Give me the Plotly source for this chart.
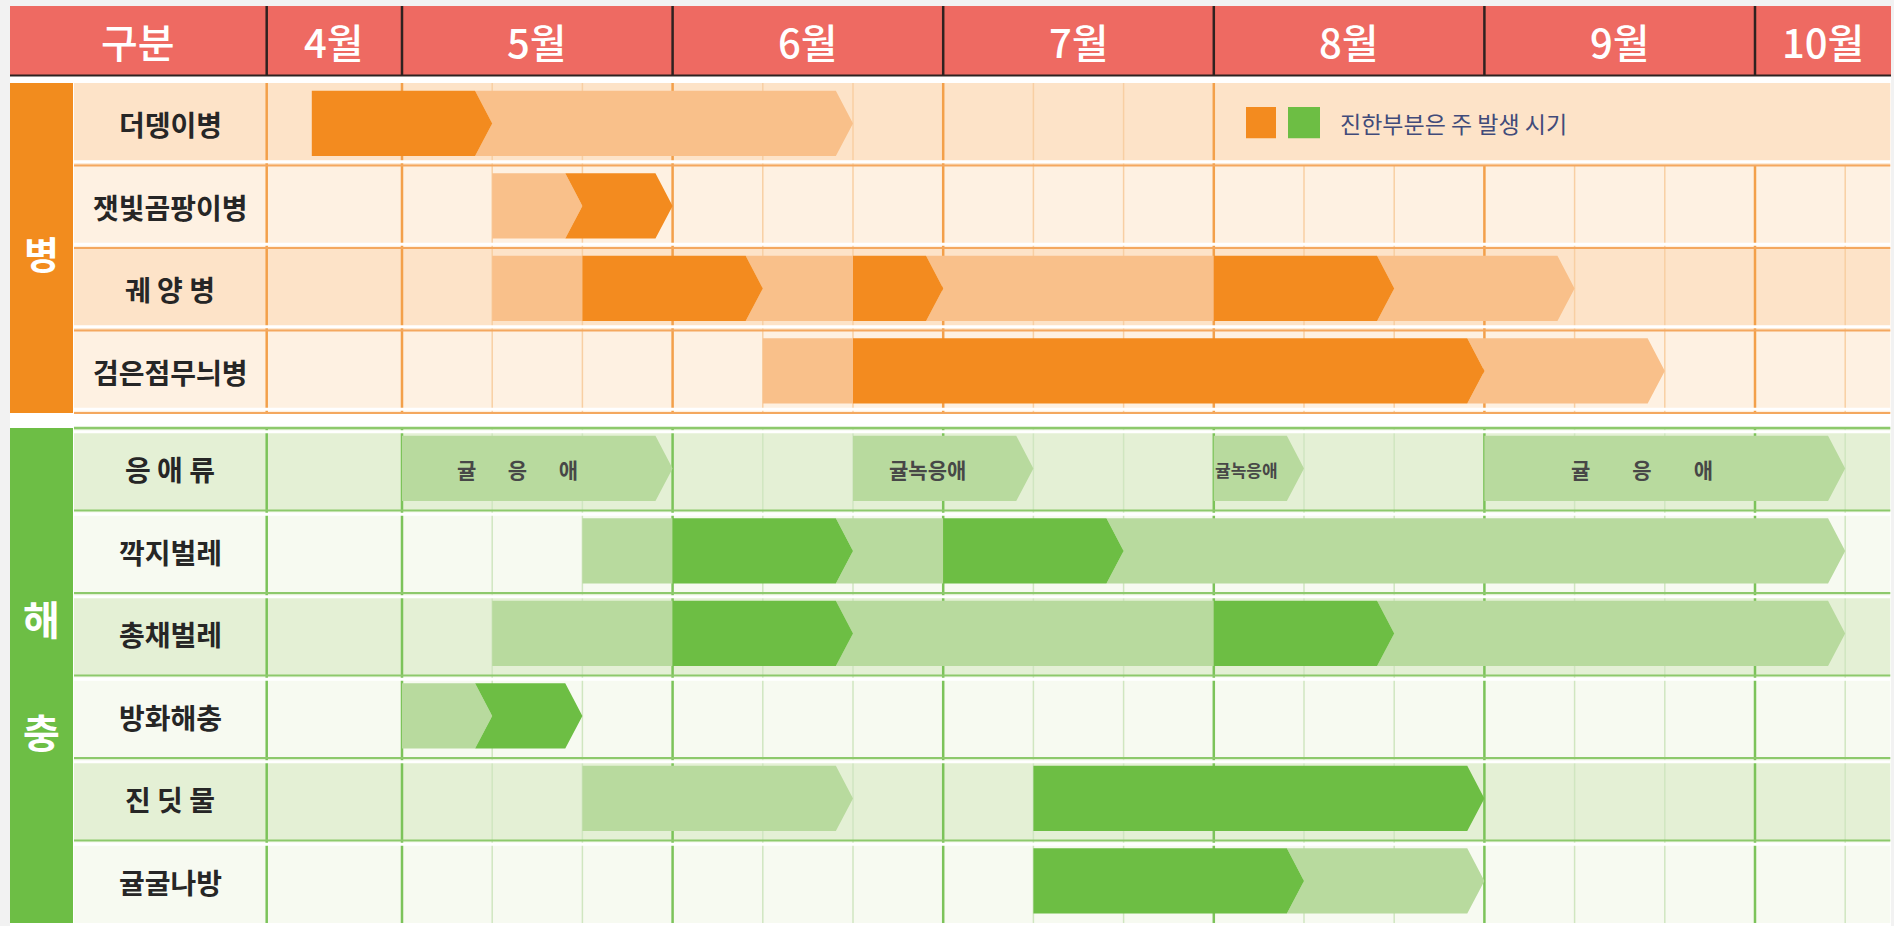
"""감귤 병해충 발생 시기표 (Plotly 재현)."""
import plotly.graph_objects as go

W, H = 1894, 926
FONT = "Noto Sans CJK KR"

# ---- 데이터 -------------------------------------------------------------
MONTHS = ["4월", "5월", "6월", "7월", "8월", "9월", "10월"]
MONTH_DEKADS = [1.5, 3, 3, 3, 3, 3, 1.5]   # 표에 보이는 순(旬) 수
FIRST_MONTH_START = -1.5                   # 5월 상순 시작 = 0
HEADER_FIRST = "구분"

GROUPS = ["병", "해충"]

DISEASES = ["더뎅이병", "잿빛곰팡이병", "궤 양 병", "검은점무늬병"]
# (시작 순, 끝 순, 구분, 화살표 끝)
DISEASE_PERIODS = [
    [(-1, 1, "main", True), (1, 5, "sub", True)],
    [(1, 2, "sub", True), (2, 3, "main", True)],
    [(1, 2, "sub", False), (2, 4, "main", True), (4, 5, "sub", False),
     (5, 6, "main", True), (6, 9, "sub", False), (9, 11, "main", True),
     (11, 13, "sub", True)],
    [(4, 5, "sub", False), (5, 12, "main", True), (12, 14, "sub", True)],
]

PESTS = ["응 애 류", "깍지벌레", "총채벌레", "방화해충", "진 딧 물", "귤굴나방"]
PEST_PERIODS = [
    [(0, 3, "sub", True), (5, 7, "sub", True), (9, 10, "sub", True),
     (12, 16, "sub", True)],
    [(2, 3, "sub", False), (3, 5, "main", True), (5, 6, "sub", False),
     (6, 8, "main", True), (8, 16, "sub", True)],
    [(1, 3, "sub", False), (3, 5, "main", True), (5, 9, "sub", False),
     (9, 11, "main", True), (11, 16, "sub", True)],
    [(0, 1, "sub", True), (1, 2, "main", True)],
    [(2, 5, "sub", True), (7, 12, "main", True)],
    [(7, 10, "main", True), (10, 12, "sub", True)],
]
# 응애류 막대 안의 글자 (PEST_PERIODS[0] 순서)
MITE_NAMES = ["귤\u3000\u2002응\u3000\u2002애", "귤녹응애", "귤녹응애",
              "귤\u3000\u3000응\u3000\u3000애"]

LEGEND_TEXT = "진한부분은 주 발생 시기"

# ---- 색상 ---------------------------------------------------------------
HEADER = {"bg": "#EE6A62", "line": "#2E2220", "text": "#FFFFFF"}
ORANGE = {
    "main": "#F38B1F", "sub": "#F9C08A", "side": "#F28C1E",
    "row": ["#FDE3C8", "#FEF1E2"],
    "month": "#F3A04A", "dekad": "#F8CFA3", "hline": "#F4A85F",
}
GREEN = {
    "main": "#6DBE44", "sub": "#B8DA9E", "side": "#6DBE45",
    "row": ["#E4F0D5", "#F7FAF1"],
    "month": "#7CC35A", "dekad": "#D0E6C0", "hline": "#8DC96C",
}
LABEL_COLOR = "#262626"
MITE_COLOR = "#474747"
LEGEND_COLOR = "#414B7A"

# ---- 화면 배치 (px) ----------------------------------------------------
X0_PX = 402        # 5월 상순 시작 위치
DEKAD_PX = 90.2
ROW_PX = 82.5
TOP_PX = 83        # 병 구역 첫 행 윗변
PEST_TOP_PX = 428  # 해충 구역 첫 행 윗변
TIP = 0.19         # 화살표 끝 폭 (순 단위)
BAR_HALF = 0.395


def xd(px):
    return (px - X0_PX) / DEKAD_PX


def yd(px):
    return (px - TOP_PX) / ROW_PX - 0.5


shapes = []
annotations = []


def rect(x0, x1, y0, y1, color, layer="below"):
    shapes.append(dict(type="rect", xref="x", yref="y", x0=x0, x1=x1,
                       y0=y0, y1=y1, fillcolor=color, line_width=0,
                       layer=layer))


def line(x0, x1, y0, y1, color, width, layer="below"):
    shapes.append(dict(type="line", xref="x", yref="y", x0=x0, x1=x1,
                       y0=y0, y1=y1, line=dict(color=color, width=width),
                       layer=layer))


def text(x, y, s, size, color, weight="normal", xanchor="center"):
    annotations.append(dict(
        x=x, y=y, xref="x", yref="y", text=s, showarrow=False,
        xanchor=xanchor, yanchor="middle",
        font=dict(family=FONT, size=size, color=color, weight=weight),
    ))


def chevron(a, b, yc, notch, tip):
    top, bot = yc - BAR_HALF, yc + BAR_HALF
    if notch:
        xs, ys = [a - TIP, a, a - TIP], [bot, yc, top]
    else:
        xs, ys = [a, a], [bot, top]
    if tip:
        xs += [b - TIP, b, b - TIP]
        ys += [top, yc, bot]
    else:
        xs += [b, b]
        ys += [top, bot]
    xs.append(xs[0])
    ys.append(ys[0])
    return xs, ys


month_starts = []
acc = FIRST_MONTH_START
for n in MONTH_DEKADS:
    month_starts.append(acc)
    acc += n
x_end = acc
dekad_lines = [k for k in range(1, int(x_end) + 1) if k % 3 != 0]

fig = go.Figure()

# 바탕 (회색 테두리 + 흰 판)
rect(xd(0), xd(W), yd(H), yd(0), "#F2F2F2")
rect(xd(10), xd(1891), yd(H), yd(6), "#FFFFFF")


def draw_section(top, names, periods, theme, group, legend_row=False):
    n = len(names)
    centers = [top + 0.5 + i for i in range(n)]
    bottom = top + n
    # 행 배경
    for i, yc in enumerate(centers):
        rect(xd(74), x_end, yc - 0.5, yc + 0.5, theme["row"][i % 2])
    # 왼쪽 구분 칸
    rect(xd(10), xd(73), top, bottom, theme["side"])
    # 세로선
    for x in dekad_lines:
        y0 = top + 1 if (legend_row and x > 9) else top
        line(x, x, y0, bottom, theme["dekad"], 1.5)
    for x in month_starts:
        y0 = top + 1 if (legend_row and x > 9) else top
        line(x, x, y0, bottom, theme["month"], 2.5)
    # 가로선
    for i in range(1, n + 1):
        yb = top + i
        if group == "병":
            line(xd(74), x_end, yb - 0.045, yb - 0.045, "#FFFFFF", 3)
        else:
            line(xd(74), x_end, yb + 0.045, yb + 0.045, "#FFFFFF", 3)
        if i < n or group == "병":
            line(xd(74), x_end, yb, yb, theme["hline"], 2)
    if group != "병":
        line(xd(74), x_end, top + 0.045, top + 0.045, "#FFFFFF", 3)
        line(xd(74), x_end, top, top, theme["hline"], 2.5)

    # 막대
    polys = {"main": ([], []), "sub": ([], [])}
    for yc, segs in zip(centers, periods):
        prev = None
        for a, b, kind, tip in segs:
            notch = prev is not None and prev[1] == a and prev[3]
            xs, ys = chevron(a, b, yc - 0.01, notch, tip)
            px, py = polys[kind]
            px += xs + [None]
            py += ys + [None]
            prev = (a, b, kind, tip)
    for kind in ("sub", "main"):
        px, py = polys[kind]
        fig.add_trace(go.Scatter(
            x=px, y=py, mode="lines", fill="toself",
            fillcolor=theme[kind], line=dict(width=0, color=theme[kind]),
            hoverinfo="skip", showlegend=False,
        ))

    # 글자
    for yc, name in zip(centers, names):
        text(xd(170), yc, name, 28, LABEL_COLOR, "bold")
    mid = (top + bottom) / 2
    if len(group) == 1:
        text(xd(41.5), mid + 0.05, group, 38, "#FFFFFF", "bold")
    else:
        text(xd(41.5), mid - 0.7, group[0], 40, "#FFFFFF", "bold")
        text(xd(41.5), mid + 0.67, group[1], 40, "#FFFFFF", "bold")
    return centers


# 머리줄
rect(xd(10), xd(1891), yd(76), yd(6), HEADER["bg"])
for x in month_starts:
    line(x, x, yd(76), yd(6), HEADER["line"], 2.5)
line(xd(10), xd(1891), yd(75.5), yd(75.5), HEADER["line"], 2)
text(xd(138), yd(41), HEADER_FIRST, 40, HEADER["text"], 500)
for name, start, n in zip(MONTHS, month_starts, MONTH_DEKADS):
    text(start + n / 2, yd(41), name, 40, HEADER["text"], 500)

# 병 구역
d_centers = draw_section(yd(TOP_PX), DISEASES, DISEASE_PERIODS, ORANGE,
                         GROUPS[0], legend_row=True)

# 범례
ly = d_centers[0] - 0.02
rect(xd(1246), xd(1276), ly - 0.19, ly + 0.19, ORANGE["main"], "above")
rect(xd(1288), xd(1320), ly - 0.19, ly + 0.19, GREEN["main"], "above")
text(xd(1338), ly, LEGEND_TEXT, 23, LEGEND_COLOR, xanchor="left")

# 해충 구역
p_centers = draw_section(yd(PEST_TOP_PX), PESTS, PEST_PERIODS, GREEN,
                         GROUPS[1])
for (a, b, kind, tip), name in zip(PEST_PERIODS[0], MITE_NAMES):
    size = 21 if b - a >= 2 else 17
    text((a + b - TIP) / 2 - 0.04 * (b - a), p_centers[0], name, size,
         MITE_COLOR, "bold")

fig.update_layout(
    width=W, height=H,
    margin=dict(l=0, r=0, t=0, b=0),
    paper_bgcolor="#FFFFFF", plot_bgcolor="#FFFFFF",
    shapes=shapes, annotations=annotations,
    xaxis=dict(range=[xd(0), xd(W)], visible=False, fixedrange=True),
    yaxis=dict(range=[yd(H), yd(0)], visible=False, fixedrange=True),
    showlegend=False,
)
fig.write_html(
    "out.html",
    config={"displayModeBar": False},
    post_script="document.body.style.margin='0';"
                "document.body.style.overflow='hidden';",
)
